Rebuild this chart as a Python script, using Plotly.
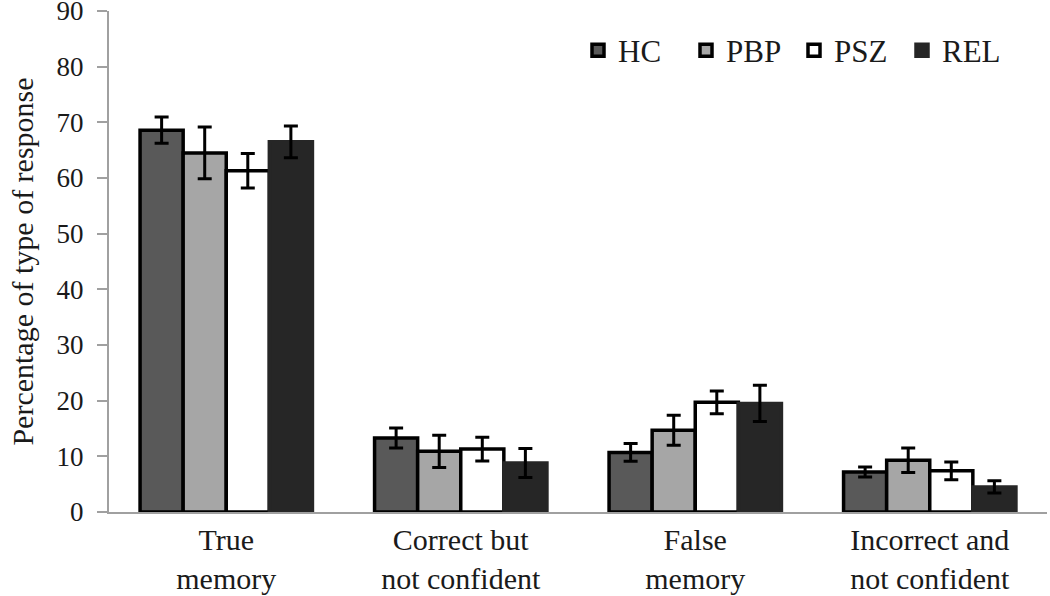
import plotly.graph_objects as go

categories = ["True<br>memory", "Correct but<br>not confident", "False<br>memory", "Incorrect and<br>not confident"]
groups = ["HC", "PBP", "PSZ", "REL"]
hc = [68.6, 13.3, 10.7, 7.2]
pbp = [64.5, 10.9, 14.7, 9.3]
psz = [61.3, 11.3, 19.7, 7.4]
rel = [66.5, 8.8, 19.5, 4.5]
hc_err = [2.35, 1.8, 1.6, 0.9]
pbp_err = [4.65, 2.9, 2.7, 2.2]
psz_err = [3.1, 2.15, 2.05, 1.6]
rel_err = [2.85, 2.6, 3.25, 1.1]
y_ticks = [0, 10, 20, 30, 40, 50, 60, 70, 80, 90]

values = [hc, pbp, psz, rel]
errors = [hc_err, pbp_err, psz_err, rel_err]
fills = ["#595959", "#a6a6a6", "#ffffff", "#262626"]
lines = ["#000000", "#000000", "#000000", "#262626"]

FONT = "Times New Roman"

fig = go.Figure()
for name, v, e, f, lc in zip(groups, values, errors, fills, lines):
    fig.add_trace(go.Bar(
        x=categories, y=v, name=name,
        marker=dict(color=f, line=dict(color=lc, width=3.5)),
        error_y=dict(type="data", array=e, color="#000000", thickness=3, width=7),
    ))

fig.update_layout(
    width=1050, height=596,
    barmode="group", bargap=0.265, bargroupgap=0.0,
    plot_bgcolor="white", paper_bgcolor="white",
    margin=dict(l=109, r=3, t=11, b=84),
    font=dict(family=FONT, size=30, color="#1a1a1a"),
    legend=dict(orientation="h", x=0.50, xanchor="left", y=0.975, yanchor="top",
                font=dict(family=FONT, size=31, color="#1a1a1a"), itemwidth=30,
                entrywidth=63, entrywidthmode="pixels",
                bgcolor="rgba(0,0,0,0)", traceorder="normal", tracegroupgap=0),
    showlegend=True,
)
fig.update_yaxes(
    range=[0, 90], tickvals=y_ticks, showgrid=False, automargin=False,
    showline=True, linecolor="#a0a0a0", linewidth=2,
    ticks="outside", ticklen=10, tickcolor="#a0a0a0", tickwidth=2,
    ticklabelstandoff=8, ticklabeloverflow="allow",
    title=dict(text="Percentage of type of response", font=dict(family=FONT, size=30), standoff=14),
    tickfont=dict(family=FONT, size=27, color="#1a1a1a"),
    zeroline=False,
)
fig.update_xaxes(
    showline=True, linecolor="#a0a0a0", linewidth=2, automargin=False,
    ticks="", showgrid=False, ticklabeloverflow="allow",
    tickfont=dict(family=FONT, size=30, color="#1a1a1a"),
)
fig.write_html("out.html", config={"displayModeBar": False},
               post_script="document.body.style.margin='0';")
